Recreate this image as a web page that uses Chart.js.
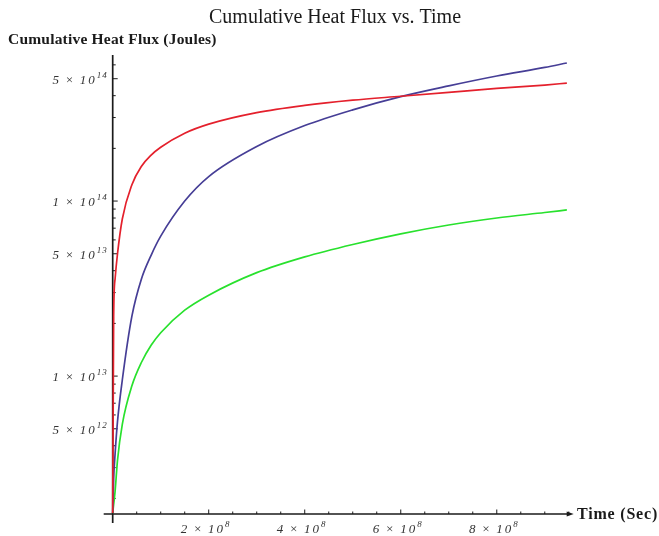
<!DOCTYPE html>
<html>
<head>
<meta charset="utf-8">
<script src="https://cdn.jsdelivr.net/npm/chart.js@4/dist/chart.umd.min.js"></script>
<style>
  html, body { margin: 0; padding: 0; background: #fff; }
  #wrap { width: 659px; height: 536px; }
</style>
</head>
<body>
<div id="wrap"><canvas id="fluxChart"></canvas></div>
<script>
// time in seconds (shared sample points)
const timeSec = [0, 2e6, 5e6, 1e7, 2e7, 4e7, 6e7, 8e7, 1e8, 1.5e8, 2e8, 3e8, 4e8, 5e8, 6e8, 7e8, 8e8, 9e8, 9.46e8];
// cumulative heat flux (Joules)
const redFlux   = [1.65e12, 2.2e13, 3.6e13, 5.0e13, 7.9e13, 1.24e14, 1.58e14, 1.83e14, 2.03e14, 2.44e14, 2.75e14, 3.2e14, 3.52e14, 3.77e14, 3.97e14, 4.18e14, 4.4e14, 4.6e14, 4.72e14];
const blueFlux  = [1.65e12, 2.6e12, 3.6e12, 5.5e12, 9.5e12, 2.2e13, 3.6e13, 4.9e13, 6.3e13, 1.0e14, 1.38e14, 2.05e14, 2.7e14, 3.32e14, 3.95e14, 4.55e14, 5.18e14, 5.8e14, 6.15e14];
const greenFlux = [1.65e12, 1.85e12, 2.2e12, 3.3e12, 5.3e12, 8.8e12, 1.2e13, 1.5e13, 1.77e13, 2.38e13, 2.9e13, 3.9e13, 4.8e13, 5.65e13, 6.5e13, 7.3e13, 8.0e13, 8.6e13, 8.9e13];

// axis ticks
const xMajorTicks = [2e8, 4e8, 6e8, 8e8];
const xTickLabels = [['2', '8'], ['4', '8'], ['6', '8'], ['8', '8']];
const yLabelTicks = [5e12, 1e13, 5e13, 1e14, 5e14];
const yTickLabels = [['5', '12'], ['1', '13'], ['5', '13'], ['1', '14'], ['5', '14']];

const xMin = 0, xMax = 9.54e8;
const yMin = 1.63e12, yMax = 6.83e14;

const toPoints = vals => vals.map((v, i) => ({ x: timeSec[i], y: v }));

// draws "m × 10^e" with a raised exponent, anchored at (ax, ay)
function drawPower(ctx, mant, exp, ax, ay, align) {
  const base = 'italic 13px "Liberation Serif", "Times New Roman", serif';
  const sup = 'italic 9px "Liberation Serif", "Times New Roman", serif';
  ctx.font = base;
  ctx.letterSpacing = '2px';
  const w1 = ctx.measureText(mant).width;
  const wx = ctx.measureText('\u00d7').width;
  const w10 = ctx.measureText('10').width;
  ctx.font = sup;
  ctx.letterSpacing = '1px';
  const we = ctx.measureText(exp).width;
  const gap = 4;
  const total = w1 + gap + wx + gap + w10 + we;
  let x = align === 'right' ? ax - total : ax - total / 2;
  ctx.textAlign = 'left';
  ctx.textBaseline = 'alphabetic';
  ctx.font = base;
  ctx.letterSpacing = '2px';
  ctx.fillText(mant, x, ay); x += w1 + gap;
  ctx.fillText('\u00d7', x, ay); x += wx + gap;
  ctx.fillText('10', x, ay); x += w10;
  ctx.font = sup;
  ctx.letterSpacing = '1px';
  ctx.fillText(exp, x, ay - 6);
  ctx.letterSpacing = '0px';
}

const mathAxes = {
  id: 'mathAxes',
  beforeDatasetsDraw(chart) {
    const { ctx, scales: { x, y } } = chart;
    const x0 = x.getPixelForValue(0);
    const y0 = y.getPixelForValue(yMin);
    ctx.save();
    ctx.strokeStyle = '#1a1a1a';
    ctx.fillStyle = '#1a1a1a';
    ctx.lineWidth = 1.4;

    // x axis with arrow
    const xEnd = x.getPixelForValue(xMax);
    ctx.beginPath();
    ctx.moveTo(x0 - 9, y0);
    ctx.lineTo(xEnd, y0);
    ctx.stroke();
    ctx.beginPath();
    ctx.moveTo(xEnd + 3, y0);
    ctx.lineTo(xEnd - 4, y0 - 2.5);
    ctx.lineTo(xEnd - 4, y0 + 2.5);
    ctx.closePath();
    ctx.fill();

    // y axis
    ctx.lineWidth = 1.7;
    ctx.beginPath();
    ctx.moveTo(x0, y.getPixelForValue(yMax));
    ctx.lineTo(x0, y0 + 9);
    ctx.stroke();

    // x ticks (major every 2e8, minor every 0.5e8)
    ctx.lineWidth = 1;
    for (let t = 0.5e8; t < xMax; t += 0.5e8) {
      const px = x.getPixelForValue(t);
      const major = xMajorTicks.some(m => Math.abs(m - t) < 1);
      ctx.beginPath();
      ctx.moveTo(px, y0);
      ctx.lineTo(px, y0 - (major ? 4.5 : 2.5));
      ctx.stroke();
    }

    // y ticks (log: majors at 1 and 5, minors elsewhere)
    for (let d = 12; d <= 14; d++) {
      for (let m = 1; m <= 9; m++) {
        const v = m * Math.pow(10, d);
        if (v < yMin || v > yMax) continue;
        const py = y.getPixelForValue(v);
        const major = m === 1 || m === 5;
        ctx.beginPath();
        ctx.moveTo(x0, py);
        ctx.lineTo(x0 + (major ? 5 : 3), py);
        ctx.stroke();
      }
    }

    // tick labels
    ctx.fillStyle = '#333';
    xMajorTicks.forEach((t, i) => {
      drawPower(ctx, xTickLabels[i][0], xTickLabels[i][1], x.getPixelForValue(t) - 3, y0 + 19, 'center');
    });
    yLabelTicks.forEach((v, i) => {
      drawPower(ctx, yTickLabels[i][0], yTickLabels[i][1], x0 - 5, y.getPixelForValue(v) + 5, 'right');
    });

    // titles
    ctx.fillStyle = '#1a1a1a';
    ctx.textBaseline = 'alphabetic';
    ctx.font = '20px "Liberation Serif", "Times New Roman", serif';
    ctx.textAlign = 'center';
    ctx.fillText('Cumulative Heat Flux vs. Time', 335, 23);
    ctx.font = 'bold 15.5px "Liberation Serif", "Times New Roman", serif';
    ctx.textAlign = 'left';
    ctx.letterSpacing = '0.2px';
    ctx.fillText('Cumulative Heat Flux (Joules)', 8, 44);
    ctx.font = 'bold 16px "Liberation Serif", "Times New Roman", serif';
    ctx.letterSpacing = '0.8px';
    ctx.fillText('Time (Sec)', 577, 519);
    ctx.restore();
  }
};

new Chart(document.getElementById('fluxChart'), {
  type: 'line',
  data: {
    datasets: [
      { label: 'red', data: toPoints(redFlux), borderColor: 'rgb(228,32,44)' },
      { label: 'blue', data: toPoints(blueFlux), borderColor: 'rgb(70,62,150)' },
      { label: 'green', data: toPoints(greenFlux), borderColor: 'rgb(40,225,45)' }
    ]
  },
  options: {
    responsive: true,
    maintainAspectRatio: false,
    animation: false,
    layout: { padding: { left: 112.7, right: 88.3, top: 55, bottom: 22 } },
    elements: {
      point: { radius: 0 },
      line: { borderWidth: 1.7, cubicInterpolationMode: 'monotone', fill: false }
    },
    datasets: { line: { clip: false } },
    plugins: { legend: { display: false }, tooltip: { enabled: false } },
    scales: {
      x: { type: 'linear', display: false, min: xMin, max: xMax },
      y: { type: 'logarithmic', display: false, min: yMin, max: yMax }
    }
  },
  plugins: [mathAxes]
});
</script>
</body>
</html>
